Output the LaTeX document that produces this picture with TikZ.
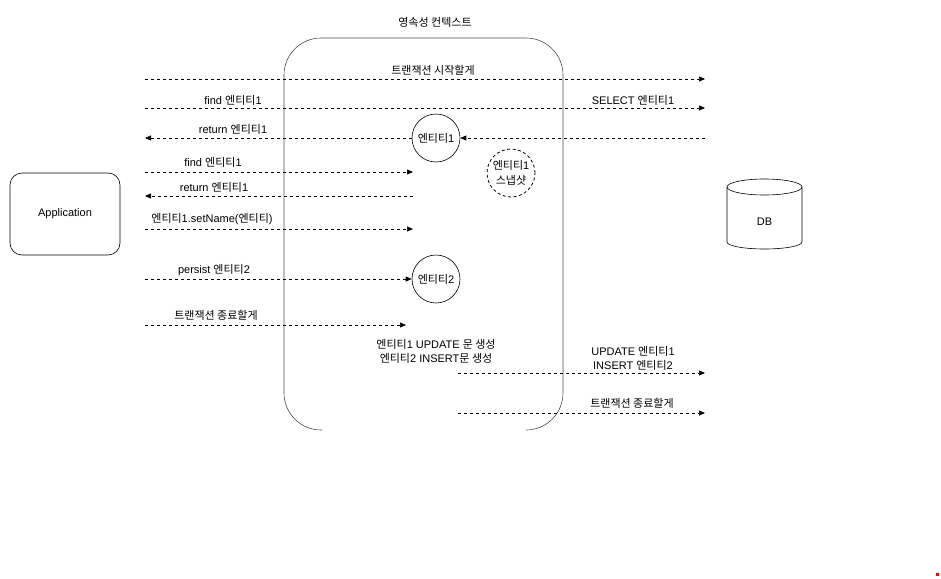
\documentclass[tikz,border=0pt]{standalone}
\usepackage{fontspec}
\setmainfont{Liberation Sans}
\newfontfamily\krfont{Noto Sans CJK KR}
\newcommand\hg[1]{{\krfont #1}}
\usetikzlibrary{arrows.meta}

\tikzset{
	txt/.style={font=\fontsize{11}{14}\selectfont, inner sep=1pt, align=center},
	msg/.style={dash pattern=on 3pt off 3pt, line width=0.7pt, -{Triangle[length=6pt,width=5pt]}},
	entity/.style={circle, draw, line width=0.6pt, minimum size=48pt, inner sep=0pt, txt},
}

\begin{document}
\begin{tikzpicture}[x=1pt,y=-1pt]
	\useasboundingbox (0,0) rectangle (941,578);

	%context
	\node[txt] (ctxlabel) at (435,22) {\hg{영속성 컨텍스트}};
	\draw [line width=0.6pt, black!70, rounded corners=37pt] (322,430) -- (284,430) -- (284,38) -- (563,38) -- (563,430) -- (527,430);

	%boxes
	\node[txt, draw, line width=0.6pt, rounded corners=12pt, minimum width=110pt, minimum height=82pt] (app) at (65,214) {Application};
	\draw [line width=0.6pt] (727,187) -- (727,242) arc[start angle=180, end angle=360, x radius=37.5pt, y radius=7pt] -- (802,187);
	\draw [line width=0.6pt] (764.5,187) ellipse[x radius=37.5pt, y radius=8pt];
	\node[txt] (db) at (764.5,222) {DB};

	%entities
	\node[entity] (e1) at (436,138) {\hg{엔티티}1};
	\node[entity, dash pattern=on 3pt off 2.5pt, line width=0.8pt] (snap) at (511,173) {\hg{엔티티}1\\[1pt]\hg{스냅샷}};
	\node[entity] (e2) at (436,279) {\hg{엔티티}2};

	%ends
	\coordinate (a1) at (145,79);  \coordinate (d1) at (705,79);
	\coordinate (a2) at (145,108); \coordinate (d2) at (705,108);
	\coordinate (a3) at (145,138); \coordinate (d3) at (705,138);
	\coordinate (a4) at (145,172); \coordinate (c4) at (413,172);
	\coordinate (a5) at (145,196); \coordinate (c5) at (413,196);
	\coordinate (a6) at (145,229); \coordinate (c6) at (413,229);
	\coordinate (a7) at (145,279);
	\coordinate (a8) at (145,325); \coordinate (c8) at (406,325);
	\coordinate (c10) at (458,373); \coordinate (d10) at (705,373);
	\coordinate (c11) at (458,413); \coordinate (d11) at (705,413);

	%messages
	\draw [msg] (a1) -- (d1);
	\draw [msg] (a2) -- (d2);
	\draw [msg] (d3) -- (e1);
	\draw [msg] (e1) -- (a3);
	\draw [msg] (a4) -- (c4);
	\draw [msg] (c5) -- (a5);
	\draw [msg] (a6) -- (c6);
	\draw [msg] (a7) -- (e2);
	\draw [msg] (a8) -- (c8);
	\draw [msg] (c10) -- (d10);
	\draw [msg] (c11) -- (d11);

	%labels
	\node[txt] (l1) at (433,70) {\hg{트랜잭션 시작할게}};
	\node[txt] (l2) at (233,100) {find \hg{엔티티}1};
	\node[txt] (l2b) at (633,100) {SELECT \hg{엔티티}1};
	\node[txt] (l3) at (233,129) {return \hg{엔티티}1};
	\node[txt] (l4) at (213,162) {find \hg{엔티티}1};
	\node[txt] (l5) at (214,187) {return \hg{엔티티}1};
	\node[txt] (l6) at (212,219) {\hg{엔티티}1.setName(\hg{엔티티})};
	\node[txt] (l7) at (214,270) {persist \hg{엔티티}2};
	\node[txt] (l8) at (216,315) {\hg{트랜잭션 종료할게}};
	\node[txt] (l9) at (436,351) {\hg{엔티티}1 UPDATE \hg{문 생성}\\\hg{엔티티}2 INSERT\hg{문 생성}};
	\node[txt] (l10) at (633,358) {UPDATE \hg{엔티티}1\\INSERT \hg{엔티티}2};
	\node[txt] (l11) at (632,403) {\hg{트랜잭션 종료할게}};

	\fill [red] (935.5,572.5) rectangle (938.5,575.5);
\end{tikzpicture}
\end{document}
